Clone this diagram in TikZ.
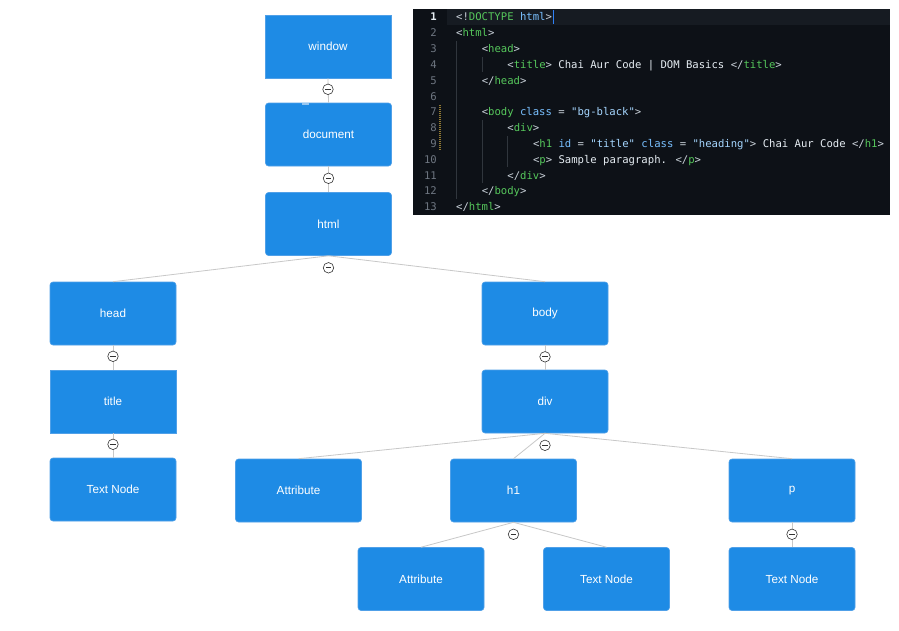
\documentclass[tikz,border=0pt]{standalone}
\usepackage{fontspec}
\setmainfont{Liberation Sans}
\newfontfamily\codefont{DejaVu Sans Mono}
\definecolor{boxblue}{RGB}{30,139,229}
\definecolor{boxedge}{RGB}{80,160,232}
\definecolor{linkgray}{RGB}{200,200,200}
\definecolor{panelbg}{RGB}{13,17,23}
\definecolor{rowbg}{RGB}{22,27,34}
\definecolor{ctag}{RGB}{86,200,92}
\definecolor{cattr}{RGB}{121,192,255}
\definecolor{cstr}{RGB}{165,214,255}
\definecolor{cpun}{RGB}{201,209,217}
\definecolor{ctext}{RGB}{230,237,243}
\definecolor{cnum}{RGB}{110,118,129}
\definecolor{cguide}{RGB}{48,54,61}
\definecolor{cmod}{RGB}{150,125,50}
\definecolor{ccursor}{RGB}{47,129,247}
\newcommand\kTag[1]{\textcolor{ctag}{#1}}
\newcommand\kAttr[1]{\textcolor{cattr}{#1}}
\newcommand\kStr[1]{\textcolor{cstr}{#1}}
\newcommand\kPun[1]{\textcolor{cpun}{#1}}
\newcommand\kTxt[1]{\textcolor{ctext}{#1}}
\tikzset{
  treebox/.style={rectangle, rounded corners=3pt, fill=boxblue, draw=boxedge, line width=0.6pt,
    minimum width=126pt, minimum height=63pt, text=white, inner sep=0pt,
    font=\fontsize{11.7}{13}\selectfont},
  sharpbox/.style={treebox, rounded corners=0pt},
  link/.style={draw=linkgray, line width=0.8pt},
  toggle/.style={circle, draw=black!80, fill=white, line width=0.6pt, minimum size=10.5pt, inner sep=0pt,
    path picture={\draw[black!80, line width=0.8pt] ([xshift=-2.6pt]path picture bounding box.center) -- ([xshift=2.6pt]path picture bounding box.center);}},
  codeline/.style={anchor=base west, inner sep=0pt, font=\codefont\fontsize{10.6}{12}\selectfont},
  linenum/.style={anchor=base east, inner sep=0pt, text=cnum, font=\codefont\fontsize{10.6}{12}\selectfont},
  guide/.style={draw=cguide, line width=0.8pt}
}
\begin{document}
\begin{tikzpicture}[x=1pt,y=-1pt]
\useasboundingbox (0,0) rectangle (899,630);
\fill[white] (0,0) rectangle (899,630);

% ---------- tree nodes ----------
\node[sharpbox] (window) at (328,46.5) {window};
\node[treebox] (document) at (328.5,134.5) {document};
\node[treebox] (html) at (328.5,224) {html};
\node[treebox] (head) at (113,313.5) {head};
\node[sharpbox] (title) at (113,401.5) {title};
\node[treebox] (text1) at (113,489.5) {Text Node};
\node[treebox] (body) at (545,313.5) {body};
\node[treebox] (div) at (545,401.5) {div};
\node[treebox] (attr1) at (298.5,490.5) {Attribute};
\node[treebox] (h1) at (513.5,490.5) {h1};
\node[treebox] (p) at (792,490.5) {p};
\node[treebox] (attr2) at (421,579) {Attribute};
\node[treebox] (text2) at (606.5,579) {Text Node};
\node[treebox] (text3) at (792,579) {Text Node};
\fill[boxedge!60!white] (302,103.3) rectangle (309,105);

% ---------- connectors ----------
\path[link] (window.south) -- (document.north);
\path[link] (document.south) -- (html.north);
\path[link] (html.south) -- (head.north);
\path[link] (html.south) -- (body.north);
\path[link] (head.south) -- (title.north);
\path[link] (title.south) -- (text1.north);
\path[link] (body.south) -- (div.north);
\path[link] (div.south) -- (attr1.north);
\path[link] (div.south) -- (h1.north);
\path[link] (div.south) -- (p.north);
\path[link] (h1.south) -- (attr2.north);
\path[link] (h1.south) -- (text2.north);
\path[link] (p.south) -- (text3.north);

% ---------- collapse toggles ----------
\node[toggle] (t1) at ([yshift=-11pt]window.south) {};
\node[toggle] (t2) at ([yshift=-12pt]document.south) {};
\node[toggle] (t3) at ([yshift=-12pt]html.south) {};
\node[toggle] (t4) at ([yshift=-11pt]head.south) {};
\node[toggle] (t5) at ([yshift=-11pt]title.south) {};
\node[toggle] (t6) at ([yshift=-11.5pt]body.south) {};
\node[toggle] (t7) at ([yshift=-12pt]div.south) {};
\node[toggle] (t8) at ([yshift=-12pt]h1.south) {};
\node[toggle] (t9) at ([yshift=-12pt]p.south) {};

% ---------- code panel ----------
\fill[panelbg] (413,9) rectangle (890,215);
\fill[rowbg] (447,9) rectangle (890,25);
\draw[guide] (456.5,41) -- (456.5,199);
\draw[guide] (482,57) -- (482,72);
\draw[guide] (482,120) -- (482,183);
\draw[guide] (507.5,136) -- (507.5,167);
\draw[cmod, line width=1.6pt, dash pattern=on 1pt off 1pt] (440,105) -- (440,150);

\node[linenum, text=ctext, font=\codefont\bfseries\fontsize{10.6}{12}\selectfont] (n1) at (437,20.8) {1};
\node[linenum] (n2) at (437,36.6) {2};
\node[linenum] (n3) at (437,52.5) {3};
\node[linenum] (n4) at (437,68.3) {4};
\node[linenum] (n5) at (437,84.1) {5};
\node[linenum] (n6) at (437,100.0) {6};
\node[linenum] (n7) at (437,115.8) {7};
\node[linenum] (n8) at (437,131.6) {8};
\node[linenum] (n9) at (437,147.4) {9};
\node[linenum] (n10) at (437,163.3) {10};
\node[linenum] (n11) at (437,179.1) {11};
\node[linenum] (n12) at (437,194.9) {12};
\node[linenum] (n13) at (437,210.8) {13};

\node[codeline] (c1) at (456,20.8) {\kPun{<!}\kTag{DOCTYPE} \kAttr{html}\kPun{>}};
\node[codeline] (c2) at (456,36.6) {\kPun{<}\kTag{html}\kPun{>}};
\node[codeline] (c3) at (481.6,52.5) {\kPun{<}\kTag{head}\kPun{>}};
\node[codeline] (c4) at (507.2,68.3) {\kPun{<}\kTag{title}\kPun{>} \kTxt{Chai Aur Code | DOM Basics} \kPun{</}\kTag{title}\kPun{>}};
\node[codeline] (c5) at (481.6,84.1) {\kPun{</}\kTag{head}\kPun{>}};
\node[codeline] (c7) at (481.6,115.8) {\kPun{<}\kTag{body} \kAttr{class} \kPun{=} \kStr{"bg-black"}\kPun{>}};
\node[codeline] (c8) at (507.2,131.6) {\kPun{<}\kTag{div}\kPun{>}};
\node[codeline] (c9) at (532.8,147.4) {\kPun{<}\kTag{h1} \kAttr{id} \kPun{=} \kStr{"title"} \kAttr{class} \kPun{=} \kStr{"heading"}\kPun{>} \kTxt{Chai Aur Code} \kPun{</}\kTag{h1}\kPun{>}};
\node[codeline] (c10) at (532.8,163.3) {\kPun{<}\kTag{p}\kPun{>} \kTxt{Sample paragraph.} \kPun{</}\kTag{p}\kPun{>}};
\node[codeline] (c11) at (507.2,179.1) {\kPun{</}\kTag{div}\kPun{>}};
\node[codeline] (c12) at (481.6,194.9) {\kPun{</}\kTag{body}\kPun{>}};
\node[codeline] (c13) at (456,210.8) {\kPun{</}\kTag{html}\kPun{>}};
\draw[ccursor, line width=1.2pt] (c1.base east) ++(1,3) -- ++(0,-14);
\end{tikzpicture}
\end{document}
